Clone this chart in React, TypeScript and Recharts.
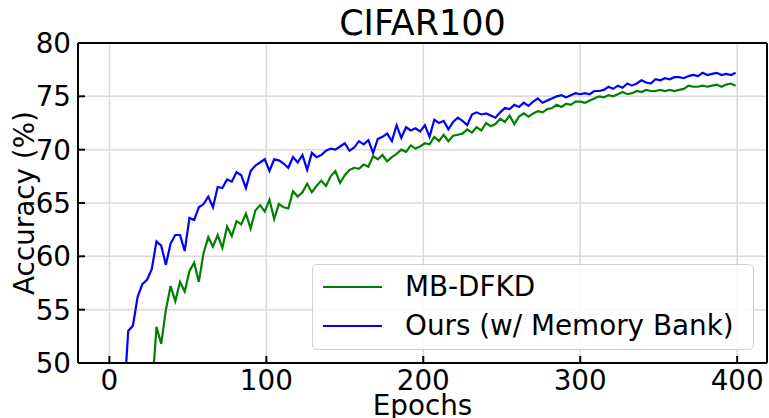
import React from 'react';
import { LineChart, Line, XAxis, YAxis, CartesianGrid, Legend } from 'recharts';

// epochs sampled every 3 from the curves
const epochs = [
  0, 3, 6, 9, 12, 15, 18, 21, 24, 27,
  30, 33, 36, 39, 42, 45, 48, 51, 54, 57,
  60, 63, 66, 69, 72, 75, 78, 81, 84, 87,
  90, 93, 96, 99, 102, 105, 108, 111, 114, 117,
  120, 123, 126, 129, 132, 135, 138, 141, 144, 147,
  150, 153, 156, 159, 162, 165, 168, 171, 174, 177,
  180, 183, 186, 189, 192, 195, 198, 201, 204, 207,
  210, 213, 216, 219, 222, 225, 228, 231, 234, 237,
  240, 243, 246, 249, 252, 255, 258, 261, 264, 267,
  270, 273, 276, 279, 282, 285, 288, 291, 294, 297,
  300, 303, 306, 309, 312, 315, 318, 321, 324, 327,
  330, 333, 336, 339, 342, 345, 348, 351, 354, 357,
  360, 363, 366, 369, 372, 375, 378, 381, 384, 387,
  390, 393, 396, 399,
];

const mbDfkd = [
  null, null, null, null, null, null, null, null, null, 47.0,
  53.4, 51.8, 55.0, 57.2, 55.8, 57.6, 56.7, 58.6, 59.4, 57.6,
  60.3, 61.8, 60.9, 62.0, 60.8, 62.8, 61.9, 63.3, 63.0, 64.0,
  62.6, 64.3, 64.8, 64.2, 65.3, 63.5, 64.9, 64.6, 64.5, 66.1,
  65.6, 66.0, 66.8, 66.0, 66.6, 67.1, 66.6, 67.5, 68.0, 66.9,
  67.6, 68.1, 68.3, 68.2, 68.6, 68.4, 69.4, 69.1, 69.5, 68.9,
  69.3, 69.6, 70.0, 69.8, 70.4, 70.1, 70.3, 70.6, 70.5, 71.2,
  70.8, 71.4, 70.8, 71.3, 71.4, 71.5, 71.9, 71.6, 72.1, 71.8,
  72.5, 72.2, 72.4, 72.9, 72.6, 73.2, 72.4, 73.1, 73.4, 73.1,
  73.4, 73.6, 73.5, 73.8, 73.9, 74.2, 74.0, 74.3, 74.2, 74.5,
  74.5, 74.4, 74.6, 74.8, 75.0, 74.9, 75.1, 75.0, 75.2, 75.4,
  75.2, 75.3, 75.5, 75.4, 75.6, 75.5, 75.5, 75.6, 75.5, 75.6,
  75.5, 75.6, 75.7, 76.0, 75.9, 75.9, 76.0, 75.9, 76.0, 76.1,
  75.9, 76.1, 76.2, 76.0,
];

const ours = [
  null, null, null, 46.0, 53.0, 53.5, 56.2, 57.4, 57.8, 58.8,
  61.4, 61.0, 59.2, 61.2, 62.0, 62.0, 60.5, 63.6, 63.4, 64.6,
  64.9, 65.6, 64.6, 66.5, 66.4, 67.2, 67.0, 67.9, 67.6, 66.4,
  68.0, 68.5, 68.8, 69.1, 68.0, 69.1, 69.0, 68.7, 68.3, 69.3,
  68.8, 69.5, 68.1, 69.7, 69.3, 69.5, 69.9, 70.1, 70.0, 70.3,
  70.6, 69.9, 70.2, 70.8, 70.5, 70.9, 69.7, 71.0, 71.2, 71.5,
  70.8, 72.3, 71.1, 72.1, 71.8, 72.0, 71.7, 72.3, 71.2, 72.8,
  72.5, 72.7, 71.9, 72.6, 73.0, 72.7, 72.3, 73.3, 73.5, 73.3,
  73.4, 73.2, 73.0, 73.5, 73.9, 73.8, 74.2, 74.0, 74.4, 74.1,
  74.5, 74.8, 74.4, 74.6, 74.8, 75.0, 75.1, 74.9, 75.1, 75.3,
  75.2, 75.3, 75.2, 75.5, 75.5, 75.6, 75.9, 75.7, 76.0, 75.8,
  76.2, 76.0, 76.2, 76.5, 76.3, 76.2, 76.6, 76.5, 76.7, 76.6,
  76.8, 76.8, 76.7, 76.9, 77.0, 76.9, 77.2, 77.0, 77.1, 77.2,
  77.0, 77.1, 77.0, 77.2,
];

const xTicks = [0, 100, 200, 300, 400];
const yTicks = [50, 55, 60, 65, 70, 75, 80];
const seriesNames = ['MB-DFKD', 'Ours (w/ Memory Bank)'];
const seriesColors = ['#008000', '#0000ff'];

const data = epochs.map((epoch, i) => ({ epoch, mb: mbDfkd[i], ours: ours[i] }));

const FONT = '"DejaVu Sans", sans-serif';
const FS = 27.8;
const axisLine = { stroke: '#000', strokeWidth: 2 };

const LegendBox = () => (
  <div
    style={{
      position: 'relative',
      width: 442,
      height: 86,
      boxSizing: 'border-box',
      border: '1px solid #d0d0d0',
      borderRadius: 5,
      background: 'rgba(255,255,255,0.85)',
      fontFamily: FONT,
      fontSize: FS,
      color: '#000',
    }}
  >
    {seriesNames.map((name, i) => (
      <div
        key={name}
        style={{
          position: 'absolute',
          left: 0,
          top: 2 + i * 39,
          height: 39,
          display: 'flex',
          alignItems: 'center',
          whiteSpace: 'nowrap',
        }}
      >
        <span style={{ display: 'inline-block', marginLeft: 10, width: 59, height: 2, background: seriesColors[i] }} />
        <span style={{ marginLeft: 23, lineHeight: '39px' }}>{name}</span>
      </div>
    ))}
  </div>
);

export default function App() {
  return (
    <div style={{ position: 'absolute', left: 0, top: 0, fontFamily: FONT }}>
      <LineChart width={769} height={418} data={data} margin={{ top: 33, right: 0, bottom: 0, left: 0 }}>
        <CartesianGrid stroke="#dadada" strokeWidth={1.5} />
        <XAxis
          dataKey="epoch"
          type="number"
          domain={[-20, 419]}
          allowDataOverflow
          ticks={xTicks}
          height={55}
          axisLine={axisLine}
          tickLine={axisLine}
          tickSize={-7}
          tickMargin={14}
          tick={{ fontSize: FS, fill: '#000' }}
          label={{ value: 'Epochs', position: 'insideBottom', offset: 3, style: { fontSize: FS, fill: '#000' } }}
        />
        <XAxis
          xAxisId="top"
          orientation="top"
          dataKey="epoch"
          type="number"
          domain={[-20, 419]}
          allowDataOverflow
          ticks={xTicks}
          height={10}
          axisLine={axisLine}
          tickLine={axisLine}
          tickSize={-7}
          tick={false}
          label={{ value: 'CIFAR100', position: 'top', offset: -2, style: { fontSize: 35, fill: '#000' } }}
        />
        <YAxis
          type="number"
          domain={[50, 80]}
          allowDataOverflow
          ticks={yTicks}
          width={78}
          axisLine={axisLine}
          tickLine={axisLine}
          tickSize={-7}
          tickMargin={14}
          tick={{ fontSize: FS, fill: '#000' }}
          label={{
            value: 'Accuracy (%)',
            angle: -90,
            position: 'insideLeft',
            offset: 24,
            style: { fontSize: FS, fill: '#000', textAnchor: 'middle' },
          }}
        />
        <YAxis
          yAxisId="right"
          orientation="right"
          type="number"
          domain={[50, 80]}
          allowDataOverflow
          ticks={yTicks}
          width={2}
          axisLine={axisLine}
          tickLine={axisLine}
          tickSize={-7}
          tick={false}
        />
        <Line
          type="linear"
          dataKey="mb"
          name={seriesNames[0]}
          stroke={seriesColors[0]}
          strokeWidth={2.2}
          dot={false}
          isAnimationActive={false}
        />
        <Line
          type="linear"
          dataKey="ours"
          name={seriesNames[1]}
          stroke={seriesColors[1]}
          strokeWidth={2.2}
          dot={false}
          isAnimationActive={false}
        />
        <Legend
          layout="vertical"
          align="center"
          verticalAlign="middle"
          content={() => <LegendBox />}
          wrapperStyle={{ left: 312, top: 264, width: 442, height: 86 }}
        />
      </LineChart>
    </div>
  );
}
